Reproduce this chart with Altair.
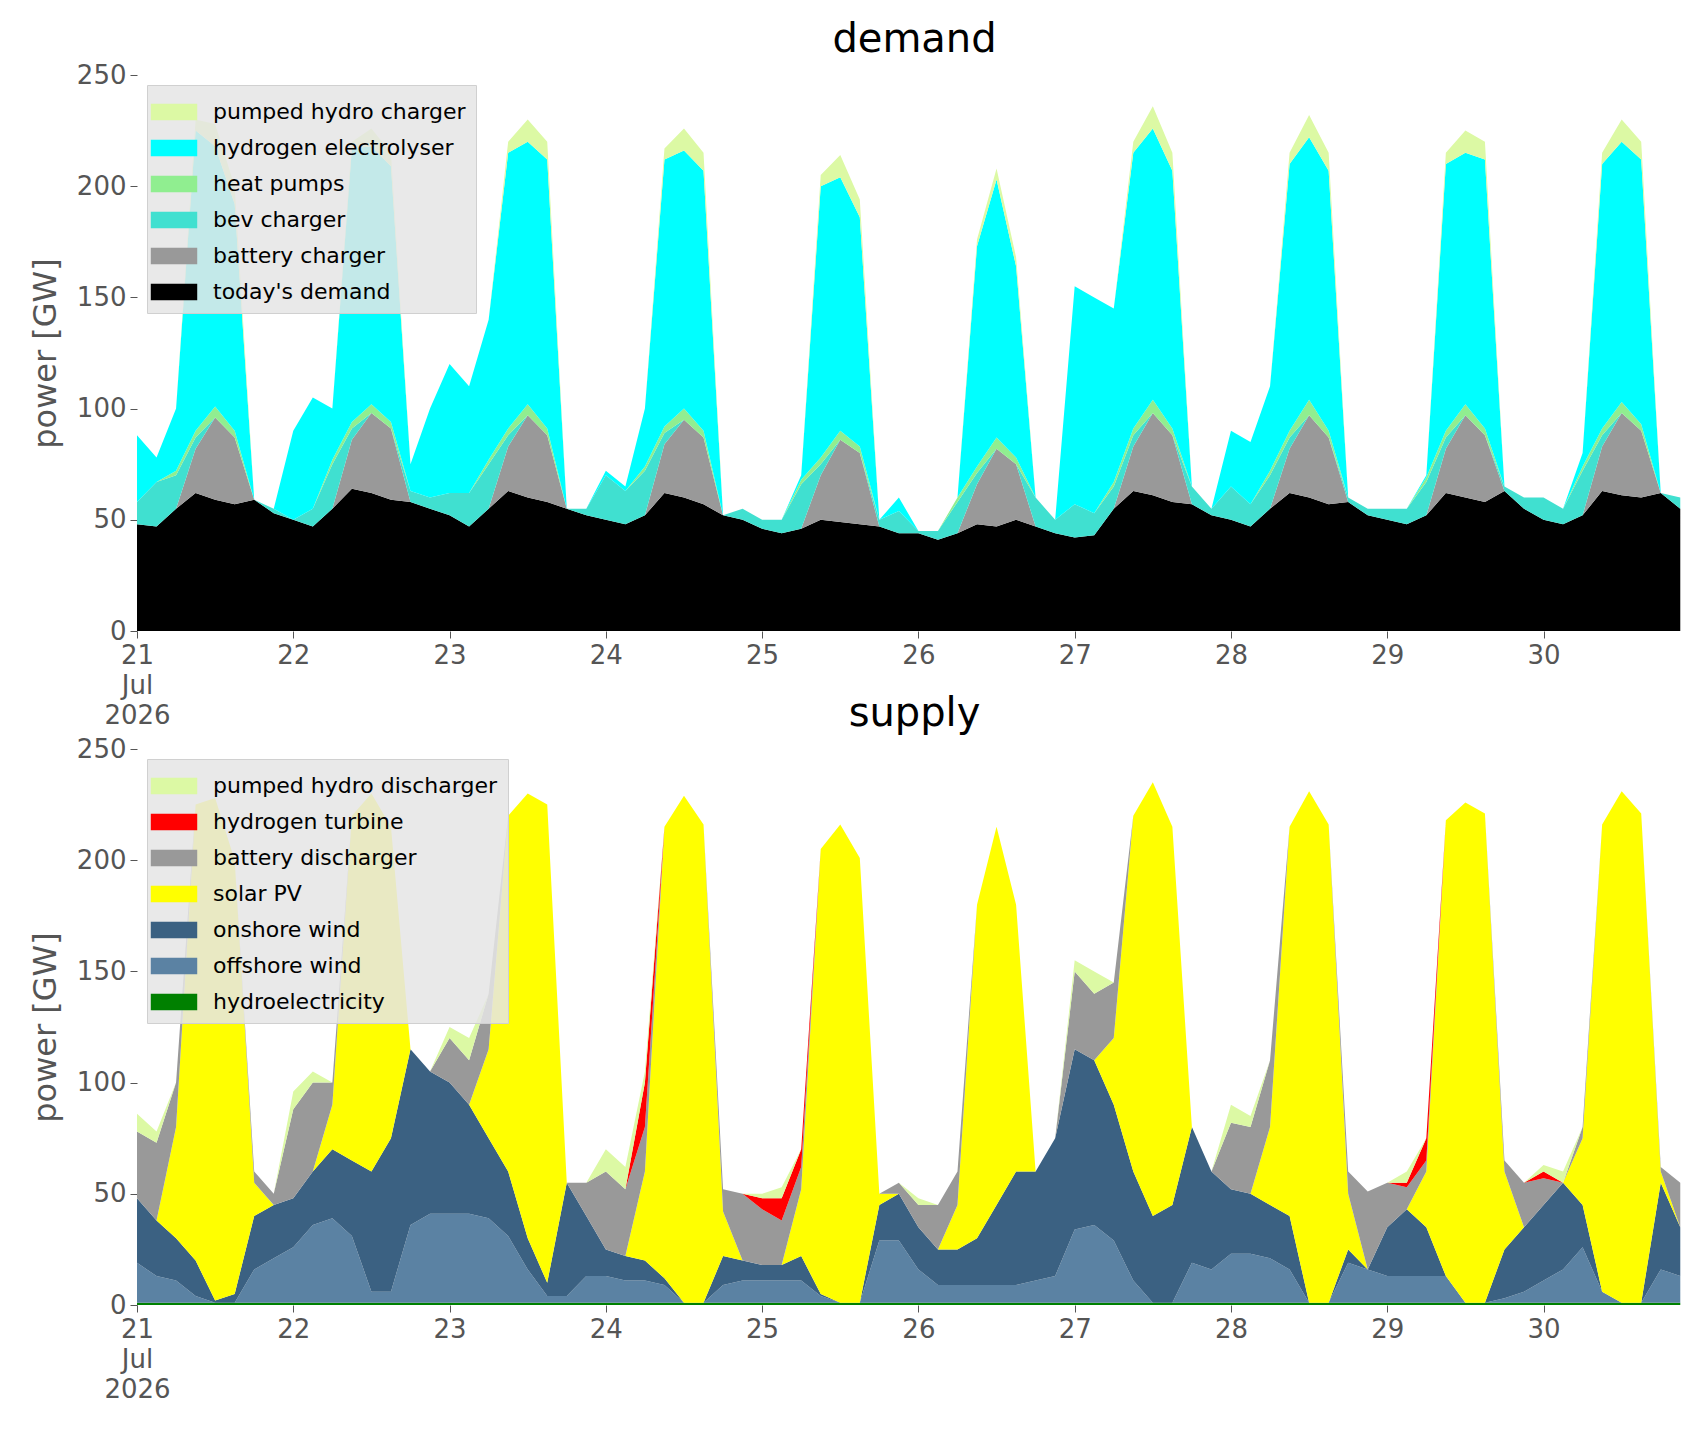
import altair as alt
import pandas as pd

# 3-hourly samples (00,03,...,21h) for 21..30 Jul 2026, GW
days = list(range(21, 31))
hours = [0, 3, 6, 9, 12, 15, 18, 21]

# ---- demand ----
todays_demand = [
    48, 47, 55, 62, 59, 57, 59, 53,
    50, 47, 55, 64, 62, 59, 58, 55,
    52, 47, 55, 63, 60, 58, 55, 52,
    50, 48, 52, 62, 60, 57, 52, 50,
    46, 44, 46, 50, 49, 48, 47, 44,
    44, 41, 44, 48, 47, 50, 47, 44,
    42, 43, 55, 63, 61, 58, 57, 52,
    50, 47, 55, 62, 60, 57, 58, 52,
    50, 48, 52, 62, 60, 58, 63, 55,
    50, 48, 52, 63, 61, 60, 62, 55,
]
battery_charger = [
    0, 0, 0, 20, 37, 30, 0, 0,
    0, 0, 0, 22, 36, 32, 0, 0,
    0, 0, 0, 20, 37, 30, 0, 0,
    0, 0, 0, 22, 35, 30, 0, 0,
    0, 0, 0, 20, 37, 32, 0, 0,
    0, 0, 0, 18, 35, 25, 0, 0,
    0, 0, 0, 20, 37, 30, 0, 0,
    0, 0, 0, 20, 37, 30, 0, 0,
    0, 0, 0, 20, 37, 30, 0, 0,
    0, 0, 0, 20, 37, 30, 0, 0,
]
bev_charger = [
    10, 20, 15, 5, 0, 0, 0, 2,
    0, 8, 20, 5, 0, 0, 5, 5,
    10, 15, 20, 5, 0, 0, 0, 3,
    20, 15, 20, 5, 0, 0, 0, 5,
    4, 6, 20, 5, 0, 0, 3, 10,
    1, 4, 14, 5, 0, 0, 13, 6,
    15, 10, 10, 5, 0, 0, 8, 3,
    15, 10, 15, 5, 0, 0, 2, 3,
    5, 7, 15, 5, 0, 0, 2, 5,
    10, 7, 20, 5, 0, 0, 0, 5,
]
heat_pumps = [
    0, 0, 2, 3, 5, 3, 0, 0,
    0, 0, 2, 3, 4, 3, 0, 0,
    0, 0, 2, 3, 5, 3, 0, 0,
    0, 0, 2, 3, 5, 3, 0, 0,
    0, 0, 2, 3, 4, 3, 0, 0,
    0, 0, 2, 3, 5, 3, 0, 0,
    0, 0, 2, 3, 6, 3, 0, 0,
    0, 0, 2, 3, 7, 3, 0, 0,
    0, 0, 2, 3, 5, 3, 0, 0,
    0, 0, 2, 3, 5, 3, 0, 0,
]
hydrogen_electrolyser = [
    30, 11, 28, 135, 117, 102, 0, 0,
    40, 50, 23, 123, 116, 115, 12, 40,
    58, 48, 63, 124, 118, 121, 0, 0,
    2, 2, 26, 120, 116, 117, 0, 0,
    0, 0, 2, 122, 114, 103, 0, 6,
    0, 0, 0, 99, 116, 86, 0, 0,
    98, 97, 78, 124, 122, 116, 0, 0,
    25, 28, 38, 120, 118, 117, 0, 0,
    0, 0, 1, 120, 113, 121, 0, 0,
    0, 0, 6, 119, 117, 119, 0, 0,
]
pumped_hydro_charger = [
    0, 0, 0, 5, 10, 8, 0, 0,
    0, 0, 0, 3, 8, 6, 0, 0,
    0, 0, 0, 5, 10, 8, 0, 0,
    0, 0, 0, 5, 10, 8, 0, 0,
    0, 0, 0, 5, 10, 8, 0, 0,
    0, 0, 0, 3, 5, 4, 0, 0,
    0, 0, 0, 5, 10, 8, 0, 0,
    0, 0, 0, 5, 10, 8, 0, 0,
    0, 0, 0, 5, 10, 8, 0, 0,
    0, 0, 0, 5, 10, 8, 0, 0,
]

# ---- supply ----
hydroelectricity = [1] * 80
offshore_wind = [
    18, 12, 10, 3, 0, 0, 15, 20,
    25, 35, 38, 30, 5, 5, 35, 40,
    40, 40, 38, 30, 15, 3, 3, 12,
    12, 10, 10, 8, 0, 0, 8, 10,
    10, 10, 10, 3, 0, 0, 28, 28,
    15, 8, 8, 8, 8, 8, 10, 12,
    33, 35, 28, 10, 0, 0, 18, 15,
    22, 22, 20, 15, 0, 0, 18, 15,
    12, 12, 12, 12, 0, 0, 2, 5,
    10, 15, 25, 5, 0, 0, 15, 12,
]
onshore_wind = [
    29, 25, 19, 16, 1, 4, 24, 24,
    22, 24, 31, 34, 54, 69, 79, 64,
    59, 49, 36, 29, 14, 6, 51, 27,
    12, 11, 9, 3, 0, 0, 13, 9,
    7, 7, 11, 1, 0, 0, 16, 21,
    19, 16, 16, 21, 36, 51, 49, 62,
    81, 74, 61, 49, 39, 44, 61, 44,
    29, 27, 24, 24, 0, 0, 6, 0,
    22, 30, 22, 0, 0, 0, 22, 29,
    34, 39, 19, 0, 0, 0, 39, 22,
]
solar_pv = [
    0, 0, 50, 205, 226, 195, 15, 0,
    0, 0, 20, 155, 170, 140, 0, 0,
    0, 0, 40, 160, 200, 215, 0, 0,
    0, 0, 40, 203, 228, 215, 20, 0,
    0, 0, 30, 200, 215, 200, 5, 0,
    0, 0, 20, 150, 170, 120, 0, 0,
    0, 0, 30, 160, 195, 170, 0, 0,
    0, 0, 35, 175, 230, 215, 25, 0,
    0, 0, 25, 205, 225, 220, 35, 0,
    0, 0, 30, 210, 230, 220, 5, 0,
]
battery_discharger = [
    30, 35, 20, 0, 0, 0, 5, 5,
    40, 40, 10, 0, 0, 0, 0, 0,
    20, 20, 25, 0, 0, 0, 0, 15,
    35, 30, 20, 0, 0, 0, 10, 30,
    25, 20, 10, 0, 0, 0, 0, 5,
    10, 20, 15, 0, 0, 0, 0, 0,
    35, 30, 25, 0, 0, 0, 0, 0,
    30, 30, 30, 0, 0, 0, 10, 35,
    20, 10, 5, 0, 0, 0, 5, 20,
    12, 0, 5, 0, 0, 0, 2, 20,
]
hydrogen_turbine = [
    0, 0, 0, 0, 0, 0, 0, 0,
    0, 0, 0, 0, 0, 0, 0, 0,
    0, 0, 0, 0, 0, 0, 0, 0,
    0, 0, 20, 0, 0, 0, 0, 0,
    5, 10, 8, 0, 0, 0, 0, 0,
    0, 0, 0, 0, 0, 0, 0, 0,
    0, 0, 0, 0, 0, 0, 0, 0,
    0, 0, 0, 0, 0, 0, 0, 0,
    0, 2, 10, 0, 0, 0, 0, 0,
    3, 0, 0, 0, 0, 0, 0, 0,
]
pumped_hydro_discharger = [
    8, 5, 0, 0, 0, 0, 0, 0,
    8, 5, 0, 0, 0, 0, 0, 0,
    5, 10, 0, 0, 0, 0, 0, 0,
    10, 10, 5, 0, 0, 0, 0, 0,
    2, 5, 0, 0, 0, 0, 0, 0,
    3, 0, 0, 0, 0, 0, 0, 0,
    5, 10, 0, 0, 0, 0, 0, 0,
    8, 5, 0, 0, 0, 0, 0, 0,
    0, 5, 0, 0, 0, 0, 0, 0,
    3, 5, 0, 0, 0, 0, 0, 0,
]

t = [d + h / 24 for d in days for h in hours]

demand_series = [
    ("today's demand", todays_demand, "#000000"),
    ("battery charger", battery_charger, "#999999"),
    ("bev charger", bev_charger, "#40e0d0"),
    ("heat pumps", heat_pumps, "#90ee90"),
    ("hydrogen electrolyser", hydrogen_electrolyser, "#00ffff"),
    ("pumped hydro charger", pumped_hydro_charger, "#dcf9a4"),
]
supply_series = [
    ("hydroelectricity", hydroelectricity, "#008000"),
    ("offshore wind", offshore_wind, "#5b82a3"),
    ("onshore wind", onshore_wind, "#3b6182"),
    ("solar PV", solar_pv, "#ffff00"),
    ("battery discharger", battery_discharger, "#999999"),
    ("hydrogen turbine", hydrogen_turbine, "#ff0000"),
    ("pumped hydro discharger", pumped_hydro_discharger, "#dcf9a4"),
]

GREY = "#555555"


def panel(series, title):
    rows = []
    for i, (name, vals, _) in enumerate(series):
        for x, v in zip(t, vals):
            rows.append({"t": x, "power": v, "tech": name, "order": i})
    df = pd.DataFrame(rows)
    names = [s[0] for s in series]
    colors = [s[2] for s in series]
    return alt.Chart(df, title=title).mark_area(interpolate="linear").encode(
        x=alt.X("t:Q", scale=alt.Scale(domain=[21, 30.95], nice=False, zero=False),
                axis=alt.Axis(values=days + [31], title=None, grid=False, domain=False,
                              labelExpr="datum.value == 21 ? ['21', 'Jul', '2026'] : datum.value == 31 ? '' : datum.value",
                              labelFontSize=26, labelColor=GREY, tickColor=GREY,
                              labelAlign="center", labelFlush=False, tickSize=7,
                              labelLineHeight=30, labelPadding=4)),
        y=alt.Y("power:Q", stack="zero", scale=alt.Scale(domain=[0, 250]),
                axis=alt.Axis(values=[0, 50, 100, 150, 200, 250], title="power [GW]",
                              grid=False, domain=False, titleFontSize=32,
                              titleFontWeight="normal", titleColor=GREY,
                              labelFontSize=26, labelColor=GREY, tickColor=GREY,
                              tickSize=7, labelPadding=4, titlePadding=14)),
        color=alt.Color("tech:N", scale=alt.Scale(domain=names, range=colors),
                        legend=alt.Legend(title=None, orient="top-left",
                                          values=names[::-1],
                                          symbolType="M-1.4,-0.5H1.4V0.5H-1.4Z",
                                          symbolSize=1100, symbolStrokeWidth=0,
                                          labelFontSize=22, labelOffset=22,
                                          labelLimit=500, rowPadding=8,
                                          fillColor="rgba(229,229,229,0.85)",
                                          padding=10, offset=10,
                                          strokeColor="#d0d0d0", symbolOpacity=1)),
        order=alt.Order("order:Q"),
    ).properties(width=1555, height=556)


chart = alt.vconcat(
    panel(demand_series, "demand"),
    panel(supply_series, "supply"),
    spacing=118,
    bounds="flush",
).resolve_scale(color="independent").properties(
    padding={"left": 21, "top": 12, "right": 5, "bottom": 5}
).configure(
    font="DejaVu Sans"
).configure_view(strokeOpacity=0).configure_title(
    fontSize=40, fontWeight="normal", font="DejaVu Sans", color="#000000", offset=2
)

chart.save("out.html", embed_options={"renderer": "svg", "actions": False})
